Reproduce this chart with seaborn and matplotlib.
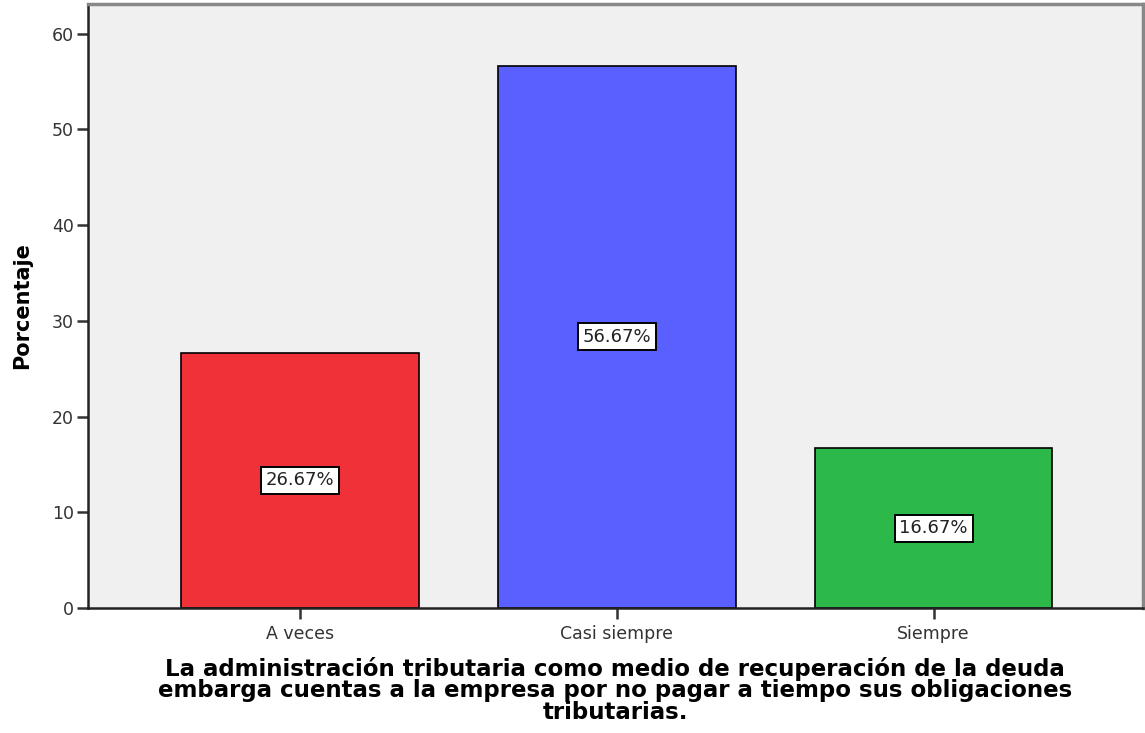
import matplotlib
matplotlib.use("Agg")
import matplotlib.pyplot as plt
import seaborn as sns
import pandas as pd

categories = ["A veces", "Casi siempre", "Siempre"]
percentages = [26.67, 56.67, 16.67]
bar_colors = ["#F03238", "#5A5FFF", "#2DB84A"]
x_title = ("La administración tributaria como medio de recuperación de la deuda\n"
           "embarga cuentas a la empresa por no pagar a tiempo sus obligaciones\n"
           "tributarias.")
y_title = "Porcentaje"

sns.set_style("white")
plt.rcParams["font.family"] = ["DejaVu Sans"]

df = pd.DataFrame({"cat": categories, "pct": percentages})

fig = plt.figure(figsize=(11.45, 7.33), dpi=100)
ax = fig.add_axes([0.0769, 0.1705, 0.921, 0.824])
ax.set_facecolor("#F0F0F0")

sns.barplot(data=df, x="cat", y="pct", hue="cat", palette=bar_colors,
            width=0.75, edgecolor="black", linewidth=1.2, legend=False,
            saturation=1, ax=ax)

for i, v in enumerate(percentages):
    ax.text(i, v / 2, f"{v:.2f}%", ha="center", va="center", fontsize=13,
            color="#222222",
            bbox=dict(boxstyle="square,pad=0.26", facecolor="white",
                      edgecolor="black", linewidth=1.4))

ax.set_xlim(-0.67, 2.66)
ax.set_ylim(0, 63.1)
ax.set_yticks([0, 10, 20, 30, 40, 50, 60])
ax.tick_params(axis="both", which="both", length=8, width=1.8, color="#333333",
               labelsize=12.5, labelcolor="#333333", direction="out",
               left=True, bottom=True)
ax.tick_params(axis="x", pad=4)
ax.tick_params(axis="y", pad=2)

for side in ["left", "bottom"]:
    ax.spines[side].set_color("#222222")
    ax.spines[side].set_linewidth(1.8)
for side in ["top", "right"]:
    ax.spines[side].set_visible(True)
    ax.spines[side].set_color("#888888")
    ax.spines[side].set_linewidth(2.5)

ax.set_xlabel(x_title, fontsize=16.5, fontweight="bold", color="black",
              linespacing=0.92, labelpad=10)
ax.set_ylabel(y_title, fontsize=15, fontweight="bold", color="black",
              labelpad=14)

fig.savefig("out.png", dpi=100)
